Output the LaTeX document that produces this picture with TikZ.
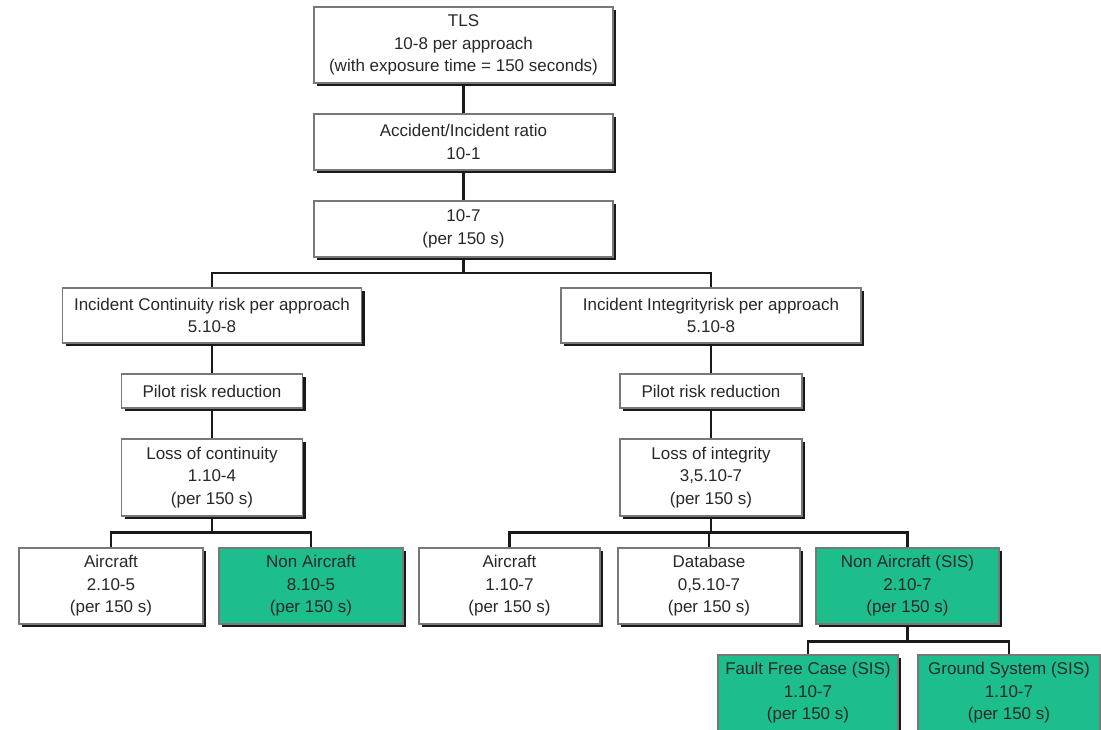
\documentclass[tikz,border=0pt]{standalone}
\usepackage{fontspec}
\setmainfont{Liberation Sans}
\usetikzlibrary{shadows}
\definecolor{boxgreen}{RGB}{28,190,142}
\definecolor{boxline}{RGB}{120,120,120}
\definecolor{txt}{RGB}{40,40,40}
\tikzset{
  box/.style={rectangle, draw=boxline, line width=1.3pt, fill=white, inner sep=0pt,
    align=center, font=\fontsize{17}{22.5}\selectfont, text=txt,
    drop shadow={shadow xshift=3pt, shadow yshift=-3pt, fill=black!90, opacity=1}},
  greenbox/.style={box, fill=boxgreen},
  conn/.style={draw=black!90, line width=2.3pt}
}
\begin{document}
\begin{tikzpicture}[x=1pt,y=-1pt]
\fill[white] (0,0) rectangle (1101,729);
\useasboundingbox (0,0) rectangle (1101,729);

\node[box, minimum width=299pt, minimum height=76pt] (tls) at (463.5,45) {TLS\\10-8 per approach\\(with exposure time = 150 seconds)};
\node[box, minimum width=299pt, minimum height=56pt] (acc) at (463.5,142) {Accident/Incident ratio\\10-1};
\node[box, minimum width=299pt, minimum height=56pt] (r7) at (463.5,229) {10-7\\(per 150 s)};

\node[box, minimum width=299pt, minimum height=55pt] (cont) at (212,315.5) {Incident Continuity risk per approach\\5.10-8};
\node[box, minimum width=300pt, minimum height=55pt] (integ) at (711,315.5) {Incident Integrityrisk per approach\\5.10-8};

\node[box, minimum width=181pt, minimum height=34pt] (pilotL) at (212,391) {Pilot risk reduction};
\node[box, minimum width=182pt, minimum height=34pt] (pilotR) at (711,391) {Pilot risk reduction};

\node[box, minimum width=181pt, minimum height=77pt] (lossC) at (212,477.5) {Loss of continuity\\1.10-4\\(per 150 s)};
\node[box, minimum width=182pt, minimum height=77pt] (lossI) at (711,477.5) {Loss of integrity\\3,5.10-7\\(per 150 s)};

\node[box, minimum width=184pt, minimum height=76pt] (airL) at (111,586) {Aircraft\\2.10-5\\(per 150 s)};
\node[greenbox, minimum width=184pt, minimum height=76pt] (nonL) at (311,586) {Non Aircraft\\8.10-5\\(per 150 s)};

\node[box, minimum width=181pt, minimum height=76pt] (airR) at (509.5,586) {Aircraft\\1.10-7\\(per 150 s)};
\node[box, minimum width=182pt, minimum height=76pt] (db) at (709,586) {Database\\0,5.10-7\\(per 150 s)};
\node[greenbox, minimum width=183pt, minimum height=76pt] (nonR) at (907.5,586) {Non Aircraft (SIS)\\2.10-7\\(per 150 s)};

\node[greenbox, minimum width=180pt, minimum height=76pt] (ff) at (808,693) {Fault Free Case (SIS)\\1.10-7\\(per 150 s)};
\node[greenbox, minimum width=182pt, minimum height=76pt] (gs) at (1009,693) {Ground System (SIS)\\1.10-7\\(per 150 s)};

% connectors
\draw[conn] (tls.south) -- (acc.north);
\draw[conn] (acc.south) -- (r7.north);
\coordinate (bus1) at (463.5,273);
\draw[conn] (r7.south) -- (bus1);
\draw[conn] (cont.north) |- (bus1) -| (integ.north);
\draw[conn] (cont.south) -- (pilotL.north);
\draw[conn] (pilotL.south) -- (lossC.north);
\draw[conn] (integ.south) -- (pilotR.north);
\draw[conn] (pilotR.south) -- (lossI.north);

\coordinate (bus2) at (212,532.5);
\draw[conn] (lossC.south) -- (bus2);
\draw[conn] (airL.north) |- (bus2) -| (nonL.north);

\coordinate (bus3) at (711,532.5);
\draw[conn] (lossI.south) -- (bus3);
\draw[conn] (airR.north) |- (bus3) -| (nonR.north);
\draw[conn] (db.north) -- (db.north |- bus3);

\coordinate (bus4) at (907.5,641.5);
\draw[conn] (nonR.south) -- (bus4);
\draw[conn] (ff.north) |- (bus4) -| (gs.north);
\end{tikzpicture}
\end{document}
